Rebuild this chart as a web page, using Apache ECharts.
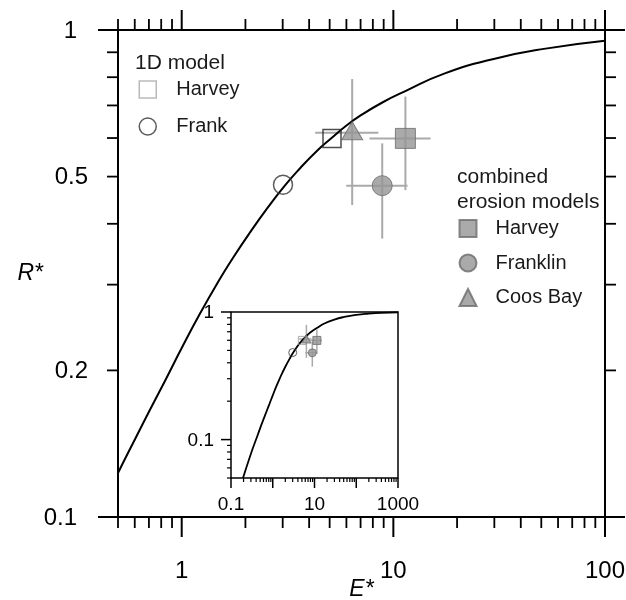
<!DOCTYPE html>
<html><head><meta charset="utf-8">
<script src="https://cdn.jsdelivr.net/npm/echarts@6/dist/echarts.min.js"></script>
<style>html,body{margin:0;padding:0;background:#fff}#c{width:626px;height:600px}</style>
</head><body><div id="c"></div>
<script>
// ---- model curve ----
const curveE = [0.194, 0.3, 0.4, 0.5, 0.599, 0.705, 0.831, 1.0, 1.217, 1.514, 1.745, 2.101, 2.528, 3.043, 3.625, 4.363, 5.139, 5.923, 6.975, 8.869, 11.40, 17.26, 29.79, 51.4, 100, 200, 400, 1000];
const curveR = [0.05, 0.0775, 0.1005, 0.1231, 0.1439, 0.1654, 0.1898, 0.2223, 0.2611, 0.308, 0.3402, 0.3838, 0.4296, 0.477, 0.5202, 0.5651, 0.6015, 0.6337, 0.6669, 0.7098, 0.7491, 0.8126, 0.8722, 0.9146, 0.9502, 0.972, 0.986, 0.995];
// ---- 1D model points ----
const harvey1D = [5.13, 0.599];
const frank1D = [3.01, 0.481];
// ---- combined erosion models ----
const combNames = ['Harvey', 'Franklin', 'Coos Bay'];
const combE = [11.4, 8.86, 6.39];
const combR = [0.599, 0.479, 0.615];
const combElo = [7.71, 5.99, 4.27];
const combEhi = [15.0, 11.67, 8.50];
const combRlo = [0.469, 0.373, 0.437];
const combRhi = [0.730, 0.585, 0.793];
// ---- ticks ----
const mainXMajor = [1, 10, 100];
const mainXMinor = [0.5, 0.6, 0.7, 0.8, 0.9, 2, 3, 4, 5, 6, 7, 8, 9, 20, 30, 40, 50, 60, 70, 80, 90];
const mainXLabels = [1, 10, 100];
const mainYMajor = [0.1, 1];
const mainYMinor = [0.2, 0.3, 0.4, 0.5, 0.6, 0.7, 0.8, 0.9];
const mainYLabels = [0.1, 0.2, 0.5, 1];
const insetXMajor = [0.1, 1, 10, 100, 1000];
const insetXMinor = [0.2, 0.3, 0.4, 0.5, 0.6, 0.7, 0.8, 0.9, 2, 3, 4, 5, 6, 7, 8, 9, 20, 30, 40, 50, 60, 70, 80, 90, 200, 300, 400, 500, 600, 700, 800, 900];
const insetXLabels = [0.1, 10, 1000];
const insetYMajor = [0.1, 1];
const insetYMinor = [0.05, 0.06, 0.07, 0.08, 0.09, 0.2, 0.3, 0.4, 0.5, 0.6, 0.7, 0.8, 0.9];
const insetYLabels = [0.1, 1];

const FONT = '"Liberation Sans", Arial, sans-serif';
const mainRange = {xmin: 0.5, xmax: 100, ymin: 0.1, ymax: 1};
const insetRange = {xmin: 0.1, xmax: 1000, ymin: 0.05, ymax: 1};

function tickSeries(gi, dir, majors, minors, labels, cfg) {
  const vals = majors.concat(minors);
  return {
    type: 'custom', xAxisIndex: gi, yAxisIndex: gi, silent: true, z: 6, clip: false,
    data: vals.map(v => dir === 'x' ? [v, cfg.ref] : [cfg.ref, v]),
    renderItem(params, api) {
      const v = dir === 'x' ? api.value(0) : api.value(1);
      const cs = params.coordSys;
      const major = majors.indexOf(v) >= 0;
      const len = major ? cfg.major : cfg.minor;
      const ls = {stroke: '#000', lineWidth: major ? cfg.lwMajor : cfg.lwMinor};
      const kids = [];
      const txt = (s, x, y, align) => ({type: 'text', style: {text: s, x: x, y: y, align: align, textAlign: align, verticalAlign: 'middle', textVerticalAlign: 'middle', fontSize: cfg.fontSize, fontFamily: FONT, fill: '#000'}});
      if (dir === 'x') {
        const px = api.coord([v, cfg.ref])[0];
        const yb = cs.y + cs.height;
        kids.push({type: 'line', shape: {x1: px, y1: yb, x2: px, y2: yb + len}, style: ls});
        if (cfg.mirror) kids.push({type: 'line', shape: {x1: px, y1: cs.y, x2: px, y2: cs.y - len}, style: ls});
        if (labels.indexOf(v) >= 0) kids.push(txt(String(v), px, yb + cfg.labelGap, 'center'));
      } else {
        const py = api.coord([cfg.ref, v])[1];
        const xl = cs.x, xr = cs.x + cs.width;
        kids.push({type: 'line', shape: {x1: xl, y1: py, x2: xl - len, y2: py}, style: ls});
        if (cfg.mirror) kids.push({type: 'line', shape: {x1: xr, y1: py, x2: xr + len, y2: py}, style: ls});
        if (labels.indexOf(v) >= 0) kids.push(txt(String(v), xl - (major ? cfg.labelGapMajor : cfg.labelGap), py + 1, 'right'));
      }
      return {type: 'group', children: kids};
    }
  };
}

function errSeries(gi, lw) {
  return {
    type: 'custom', xAxisIndex: gi, yAxisIndex: gi, silent: true, z: 3,
    data: combE.map((e, i) => [e, combR[i], combElo[i], combEhi[i], combRlo[i], combRhi[i]]),
    encode: {x: 0, y: 1},
    renderItem(params, api) {
      const l = api.coord([api.value(2), api.value(1)]);
      const r = api.coord([api.value(3), api.value(1)]);
      const b = api.coord([api.value(0), api.value(4)]);
      const t = api.coord([api.value(0), api.value(5)]);
      const st = {stroke: '#aaaaaa', lineWidth: lw};
      return {type: 'group', children: [
        {type: 'line', shape: {x1: l[0], y1: l[1], x2: r[0], y2: r[1]}, style: st},
        {type: 'line', shape: {x1: t[0], y1: t[1], x2: b[0], y2: b[1]}, style: st}
      ]};
    }
  };
}

const gray = {color: '#959595', borderColor: '#6c6c6c', borderWidth: 1};
const combSymbols = ['rect', 'circle', 'triangle'];
const combSizesMain = [20, 20, [21, 18]];
const combSizesInset = [8, 8, [9, 8]];
const combOffsetMain = [[0, 0], [0, 0], [0, -2]];

function combScatter(gi, sizes, offs) {
  return combNames.map((n, i) => ({
    type: 'scatter', name: n, xAxisIndex: gi, yAxisIndex: gi, z: 5,
    symbol: combSymbols[i], symbolSize: sizes[i], symbolOffset: offs ? offs[i] : [0, 0],
    itemStyle: gray, data: [[combE[i], combR[i]]]
  }));
}

const curveData = curveE.map((e, i) => [e, curveR[i]]);

function axisPair(gi, r, withNames) {
  const common = {type: 'log', logBase: 10, gridIndex: gi, axisLine: {show: false}, axisTick: {show: false}, axisLabel: {show: false}, splitLine: {show: false}};
  const x = Object.assign({}, common, {min: r.xmin, max: r.xmax});
  const y = Object.assign({}, common, {min: r.ymin, max: r.ymax});
  if (withNames) {
    Object.assign(x, {name: 'E*', nameLocation: 'middle', nameGap: 61, nameTextStyle: {fontStyle: 'italic', fontSize: 23, fontFamily: FONT, color: '#000'}});
    Object.assign(y, {name: 'R*', nameLocation: 'middle', nameRotate: 0, nameGap: 75, nameTextStyle: {fontStyle: 'italic', fontSize: 23, fontFamily: FONT, color: '#000'}});
  }
  return [x, y];
}

const [mx, my] = axisPair(0, mainRange, true);
const [ix, iy] = axisPair(1, insetRange, false);

const option = {
  animation: false,
  backgroundColor: '#fff',
  textStyle: {fontFamily: FONT},
  grid: [
    {left: 118, top: 30, width: 487, height: 487, show: true, borderColor: '#000', borderWidth: 2, backgroundColor: 'transparent', containLabel: false, outerBoundsMode: 'none'},
    {left: 231, top: 312, width: 167, height: 166, show: true, borderColor: '#000', borderWidth: 1.5, backgroundColor: '#fff', containLabel: false, outerBoundsMode: 'none'}
  ],
  xAxis: [mx, ix],
  yAxis: [my, iy],
  title: [
    {text: '1D model', left: 135, top: 52.5, padding: 0, textStyle: {fontSize: 21, fontWeight: 'normal', fontFamily: FONT, color: '#1a1a1a', lineHeight: 21}},
    {text: 'combined\nerosion models', left: 457, top: 164.5, padding: 0, textStyle: {fontSize: 21, fontWeight: 'normal', fontFamily: FONT, color: '#1a1a1a', lineHeight: 25}}
  ],
  legend: [
    {
      data: [
        {name: '1D Harvey', icon: 'rect', itemStyle: {color: '#fff', borderColor: '#a8a8a8', borderWidth: 1.5}},
        {name: '1D Frank', icon: 'circle', itemStyle: {color: '#fff', borderColor: '#333', borderWidth: 1.5}}
      ],
      formatter: n => n.replace('1D ', ''),
      orient: 'vertical', left: 138.5, top: 79.5, padding: 0,
      itemWidth: 17, itemHeight: 17, itemGap: 17, selectedMode: false,
      textStyle: {fontSize: 20, fontFamily: FONT, color: '#1a1a1a', padding: [0, 0, 0, 15]}
    },
    {
      data: combNames.map((n, i) => ({name: n, icon: combSymbols[i]})),
      orient: 'vertical', left: 458.5, top: 218.5, padding: 0,
      itemWidth: 17, itemHeight: 17, itemGap: 14.5, selectedMode: false,
      textStyle: {fontSize: 20, fontFamily: FONT, color: '#1a1a1a', padding: [0, 0, 0, 14]}
    }
  ],
  series: [
    // main
    errSeries(0, 2),
    {type: 'line', name: 'curve', xAxisIndex: 0, yAxisIndex: 0, data: curveData, showSymbol: false, smooth: 0.5, lineStyle: {color: '#000', width: 2}, z: 4, clip: true},
    {type: 'scatter', name: '1D Harvey', xAxisIndex: 0, yAxisIndex: 0, symbol: 'rect', symbolSize: 18, itemStyle: {color: 'rgba(255,255,255,0)', borderColor: '#222', borderWidth: 1.5}, data: [harvey1D], z: 5},
    {type: 'scatter', name: '1D Frank', xAxisIndex: 0, yAxisIndex: 0, symbol: 'circle', symbolSize: 19, itemStyle: {color: 'rgba(255,255,255,0)', borderColor: '#333', borderWidth: 1.5}, data: [frank1D], z: 5},
    ...combScatter(0, combSizesMain, combOffsetMain),
    // inset
    errSeries(1, 1.5),
    {type: 'line', name: 'curve', xAxisIndex: 1, yAxisIndex: 1, data: curveData, showSymbol: false, smooth: 0.5, lineStyle: {color: '#000', width: 1.8}, z: 4, clip: true},
    {type: 'scatter', name: '1D Harvey', xAxisIndex: 1, yAxisIndex: 1, symbol: 'rect', symbolSize: 8, itemStyle: {color: 'rgba(255,255,255,0)', borderColor: '#999', borderWidth: 1}, data: [harvey1D], z: 5},
    {type: 'scatter', name: '1D Frank', xAxisIndex: 1, yAxisIndex: 1, symbol: 'circle', symbolSize: 8, itemStyle: {color: 'rgba(255,255,255,0)', borderColor: '#333', borderWidth: 1}, data: [frank1D], z: 5},
    ...combScatter(1, combSizesInset, null),
    // ticks + labels
    tickSeries(0, 'x', mainXMajor, mainXMinor, mainXLabels, {ref: 0.1, major: 20, minor: 11, lwMajor: 2, lwMinor: 1.8, mirror: true, labelGap: 54, fontSize: 24}),
    tickSeries(0, 'y', mainYMajor, mainYMinor, mainYLabels, {ref: 0.5, major: 20, minor: 11, lwMajor: 2, lwMinor: 1.8, mirror: true, labelGap: 30, labelGapMajor: 41, fontSize: 24}),
    tickSeries(1, 'x', insetXMajor, insetXMinor, insetXLabels, {ref: 0.05, major: 10, minor: 4, lwMajor: 1.5, lwMinor: 1.2, mirror: false, labelGap: 27, fontSize: 19}),
    tickSeries(1, 'y', insetYMajor, insetYMinor, insetYLabels, {ref: 0.1, major: 10, minor: 4, lwMajor: 1.5, lwMinor: 1.2, mirror: false, labelGap: 17, labelGapMajor: 17, fontSize: 19})
  ]
};

const chart = echarts.init(document.getElementById('c'), null, {renderer: 'canvas'});
chart.setOption(option);
</script>
</body></html>
